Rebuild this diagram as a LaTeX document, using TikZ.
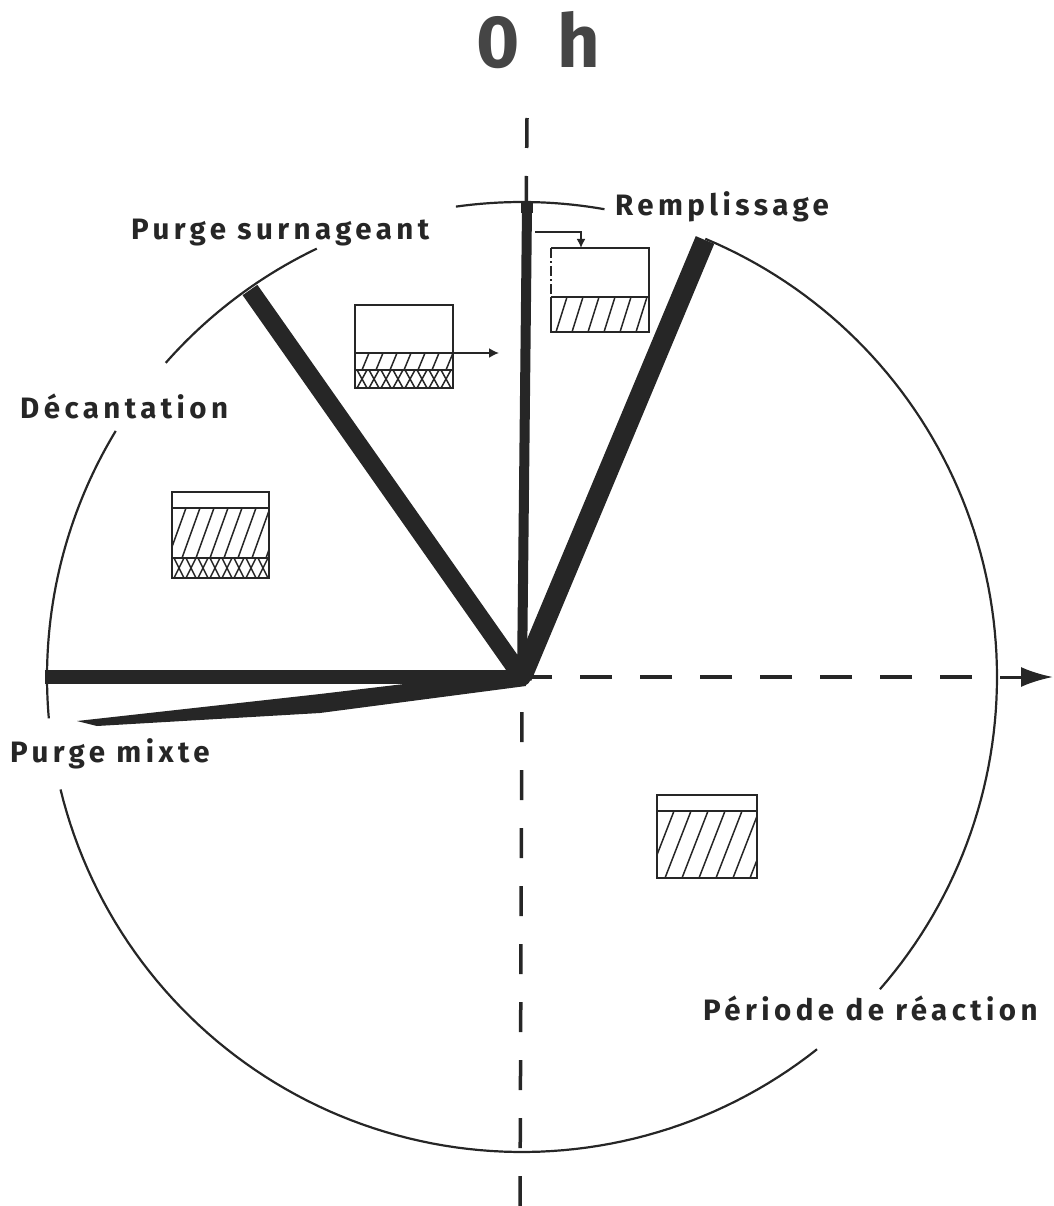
\documentclass[tikz,border=0pt]{standalone}
\usepackage{fontspec}
\setmainfont{Fira Sans}
\newfontfamily\lblfont[LetterSpace=15]{Fira Sans}
\newfontfamily\ttlfont{Fira Sans}
\usetikzlibrary{arrows.meta}
\definecolor{ink}{HTML}{262626}
\definecolor{ttl}{HTML}{454545}
\newcommand\hatchzone[6]{%
  \begin{scope}
    \clip (#1,#2) rectangle (#3,#4);
    \foreach \k in {0,...,20} {\draw[hatch] ({#1-#6+\k*#5},#4) -- ({#1+\k*#5},#2);}
  \end{scope}}
\newcommand\crosszone[6]{%
  \begin{scope}
    \clip (#1,#2) rectangle (#3,#4);
    \foreach \k in {0,...,20} {\draw[hatch] ({#1-#6+\k*#5},#4) -- ({#1+\k*#5},#2);
      \draw[hatch] ({#1+\k*#5},#4) -- ({#1-#6+\k*#5},#2);}
  \end{scope}}
\begin{document}
\begin{tikzpicture}[x=1pt,y=-1pt,
  ring/.style={line width=2.2pt, draw=ink},
  bar/.style={line width=#1, draw=ink, line cap=butt},
  vaxis/.style={line width=3.5pt, draw=ink, dash pattern=on 30pt off 28pt},
  haxis/.style={line width=3.5pt, draw=ink, dash pattern=on 32pt off 28pt, dash phase=32pt},
  lbl/.style={font=\lblfont\fontsize{29.5}{34}\selectfont\bfseries, text=ink, inner sep=0pt, anchor=base west},
  boxline/.style={line width=1.8pt, draw=ink},
  hatch/.style={line width=1.5pt, draw=ink},
  tip/.style={-{Latex[length=#1,width=#1]}}
]
\useasboundingbox (0,0) rectangle (1053,1206);

% centre and bar ends
\coordinate (O) at (522,677);
\coordinate (t1) at (527,207);
\coordinate (t2) at (705,240);
\coordinate (t3) at (250,290);
\coordinate (t4) at (45,677);

% axes
\draw[vaxis] (527,118) -- (O);
\draw[vaxis] (520,1206) -- (O);
\draw[haxis] (1000,677) -- (O);
\coordinate (ax) at (1000,677);
\coordinate (axend) at (1053,677);
\draw[line width=3pt, draw=ink, -{Latex[length=32pt,width=20pt]}] (ax) -- (axend);

% circle arcs
\newcommand\ringarc[2]{\draw[ring] plot[domain=#1:#2, samples=80] ({522+475*cos(\x)},{677-475*sin(\x)});}
\ringarc{80}{98}
\ringarc{115.6}{138.6}
\ringarc{148.8}{185}
\ringarc{193.7}{308.4}
\ringarc{-41.1}{67.3}

% bars
\draw[bar=10pt] (O) -- (t1);
\draw[bar=20pt] (O) -- (t2);
\draw[bar=18pt] (O) -- (t3);
\draw[bar=14pt] (O) -- (t4);
\fill[ink] (77,721) -- (320,694) -- (522,670) -- (526,686) -- (320,713) -- (97,726) -- cycle;
\fill[ink] (O) circle (9);
\fill[ink] (521,201) rectangle (533,213);

% box A (Remplissage)
\hatchzone{551}{297}{649}{332}{16}{11}
\draw[boxline] (551,297) -- (551,332) -- (649,332) -- (649,248) -- (551,248);
\draw[boxline, dash pattern=on 10pt off 3pt on 2pt off 3pt] (551,248) -- (551,297);
\draw[boxline] (551,297) -- (649,297);
\coordinate (fa) at (535,232);
\coordinate (fb) at (581,232);
\coordinate (fc) at (581,248);
\draw[line width=1.8pt, draw=ink, tip=9pt] (fa) -- (fb) -- (fc);

% box B (Purge surnageant)
\hatchzone{355}{353}{453}{370}{14}{7}
\crosszone{355}{370}{453}{388}{12}{10}
\draw[boxline] (355,305) rectangle (453,388);
\draw[boxline] (355,353) -- (453,353);
\draw[boxline] (355,370) -- (453,370);
\coordinate (pa) at (453,353);
\coordinate (pb) at (499,353);
\draw[line width=1.8pt, draw=ink, tip=10pt] (pa) -- (pb);

% box C (Decantation)
\hatchzone{172}{508}{269}{558}{14}{18}
\crosszone{172}{558}{269}{578}{12}{10}
\draw[boxline] (172,492) rectangle (269,578);
\draw[boxline] (172,508) -- (269,508);
\draw[boxline] (172,558) -- (269,558);

% box D (Reaction)
\hatchzone{657}{811}{757}{878}{17}{26}
\draw[boxline] (657,795) rectangle (757,878);
\draw[boxline] (657,811) -- (757,811);

% labels
\node[font=\ttlfont\fontsize{74}{80}\selectfont\bfseries, text=ttl, inner sep=0pt, anchor=base west] (title) at (476,68) {0\hskip 38pt h};
\node[lbl] (rem) at (615,215) {Remplissage};
\node[lbl] (psu) at (131,240) {Purge surnageant};
\node[lbl] (dec) at (20,418) {Décantation};
\node[lbl] (pmx) at (10,762) {Purge mixte};
\node[lbl] (per) at (703,1020) {Période de réaction};
\end{tikzpicture}
\end{document}
